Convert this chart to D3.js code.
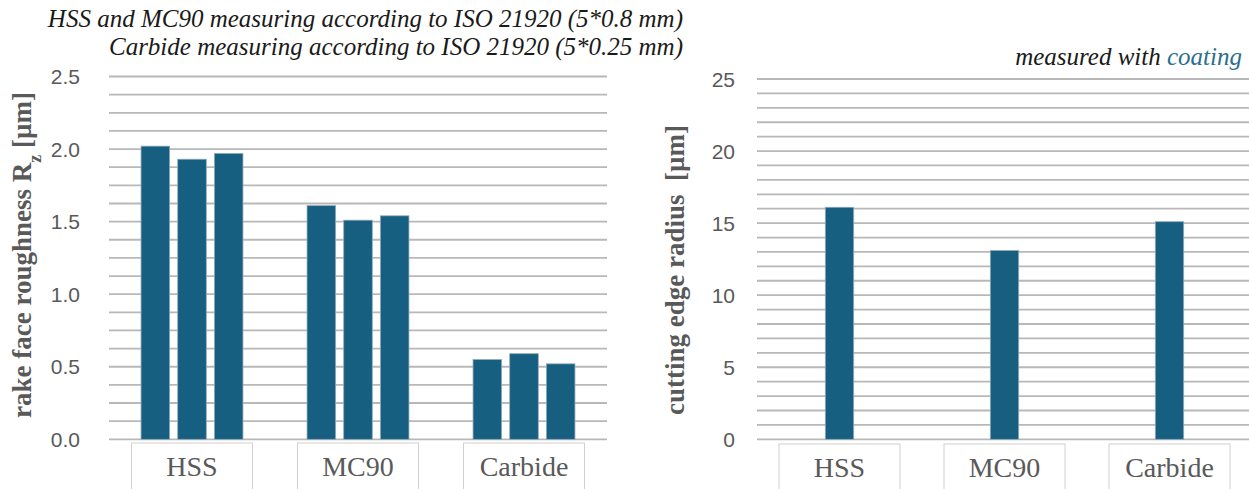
<!DOCTYPE html>
<html>
<head>
<meta charset="utf-8">
<script src="https://cdn.jsdelivr.net/npm/d3@7"></script>
<style>
  body { margin: 0; background: #fff; }
  svg { display: block; }
</style>
</head>
<body>
<svg width="1249" height="489"></svg>
<script>
// data
const categories = ["HSS", "MC90", "Carbide"];
const measurements = ["m1", "m2", "m3"];
const roughness = [
    [2.02, 1.93, 1.97],
    [1.61, 1.51, 1.54],
    [0.55, 0.59, 0.52]
];
const edgeRadius = [16.1, 13.1, 15.1];
const roughTicks = [0, 0.5, 1.0, 1.5, 2.0, 2.5];
const radiusTicks = [0, 5, 10, 15, 20, 25];

const svg = d3.select("svg");
const barColor = "#165f81";
const textGray = "#595959";
const serif = "'Liberation Serif', 'Times New Roman', serif";
const sans = "'Liberation Sans', Arial, sans-serif";

function drawGrid(g, y, x0, x1, step, max) {
    const lines = d3.range(0, max + step / 2, step);
    g.selectAll(".grid")
        .data(lines)
        .enter().append("line")
        .attr("x1", x0).attr("x2", x1)
        .attr("y1", d => y(d)).attr("y2", d => y(d))
        .style("stroke", "#b8b8b8")
        .style("stroke-width", 1.8);
}

function drawYAxis(g, y, ticks, fmt, xRight) {
    g.selectAll(".tick")
        .data(ticks)
        .enter().append("text")
        .attr("x", xRight)
        .attr("y", d => y(d))
        .attr("dy", "0.36em")
        .attr("text-anchor", "end")
        .style("font-family", sans)
        .style("font-size", "21px")
        .style("fill", textGray)
        .text(fmt);
}

function drawCategoryBoxes(g, x, top) {
    const boxW = 121;
    const cat = g.selectAll(".cat")
        .data(categories)
        .enter().append("g");
    cat.append("rect")
        .attr("x", d => x(d) + x.bandwidth() / 2 - boxW / 2)
        .attr("y", top)
        .attr("width", boxW)
        .attr("height", 60)
        .style("fill", "#fff")
        .style("stroke", "#d0d0d0")
        .style("stroke-width", 1);
    cat.append("text")
        .attr("x", d => x(d) + x.bandwidth() / 2)
        .attr("y", top + 33)
        .attr("text-anchor", "middle")
        .style("font-family", serif)
        .style("font-size", "28px")
        .style("fill", textGray)
        .text(d => d);
}

// ---- left chart: rake face roughness
const left = svg.append("g");
const yL = d3.scaleLinear().domain([0, 2.5]).range([439.3, 76.5]);
const xL = d3.scaleBand().domain(categories).range([109, 607]).padding(0);
const xLin = d3.scaleBand().domain(measurements)
    .range([xL.bandwidth() * 0.193, xL.bandwidth() * 0.807])
    .paddingInner(0.22);

drawGrid(left, yL, 109, 607, 0.125, 2.5);
drawYAxis(left, yL, roughTicks, d3.format(".1f"), 80);

left.selectAll(".grp")
    .data(categories)
    .enter().append("g")
    .attr("transform", d => `translate(${xL(d)},0)`)
    .selectAll("rect")
    .data((d, i) => roughness[i].map((v, j) => ({ m: measurements[j], v: v })))
    .enter().append("rect")
    .attr("x", d => xLin(d.m))
    .attr("y", d => yL(d.v))
    .attr("width", xLin.bandwidth())
    .attr("height", d => yL(0) - yL(d.v))
    .style("fill", barColor)
    .style("stroke", "#93abb9")
    .style("stroke-width", 0.8);

drawCategoryBoxes(left, xL, 443);

const ltitle = left.append("text")
    .attr("transform", "translate(31,255) rotate(-90)")
    .attr("text-anchor", "middle")
    .style("font-family", serif)
    .style("font-weight", "bold")
    .style("font-size", "27px")
    .style("fill", textGray);
ltitle.append("tspan").text("rake face roughness R");
ltitle.append("tspan").attr("baseline-shift", "sub").style("font-size", "18px").text("z");
ltitle.append("tspan").text(" [µm]");

// header notes
const note = svg.append("g")
    .style("font-family", serif)
    .style("font-style", "italic")
    .style("font-size", "25px")
    .style("fill", "#1a1a1a")
    .attr("text-anchor", "end");
note.append("text").attr("x", 683).attr("y", 27)
    .text("HSS and MC90 measuring according to ISO 21920 (5*0.8 mm)");
note.append("text").attr("x", 683).attr("y", 55)
    .text("Carbide measuring according to ISO 21920 (5*0.25 mm)");
const coat = note.append("text").attr("x", 1242).attr("y", 65);
coat.append("tspan").text("measured with ");
coat.append("tspan").style("fill", "#2b6f8f").text("coating");

// ---- right chart: cutting edge radius
const right = svg.append("g");
const yR = d3.scaleLinear().domain([0, 25]).range([439.3, 79]);
const xR = d3.scaleBand().domain(categories).range([757, 1252]).padding(0);
const barW = xR.bandwidth() * 0.172;

drawGrid(right, yR, 757, 1252, 1, 25);
drawYAxis(right, yR, radiusTicks, d3.format("d"), 735);

right.selectAll(".bar")
    .data(categories)
    .enter().append("rect")
    .attr("x", d => xR(d) + xR.bandwidth() / 2 - barW / 2)
    .attr("y", (d, i) => yR(edgeRadius[i]))
    .attr("width", barW)
    .attr("height", (d, i) => yR(0) - yR(edgeRadius[i]))
    .style("fill", barColor)
    .style("stroke", "#93abb9")
    .style("stroke-width", 0.8);

drawCategoryBoxes(right, xR, 444);

right.append("text")
    .attr("transform", "translate(684,270) rotate(-90)")
    .attr("text-anchor", "middle")
    .attr("xml:space", "preserve")
    .style("white-space", "pre")
    .style("font-family", serif)
    .style("font-weight", "bold")
    .style("font-size", "27px")
    .style("fill", textGray)
    .text("cutting edge radius  [µm]");
</script>
</body>
</html>
